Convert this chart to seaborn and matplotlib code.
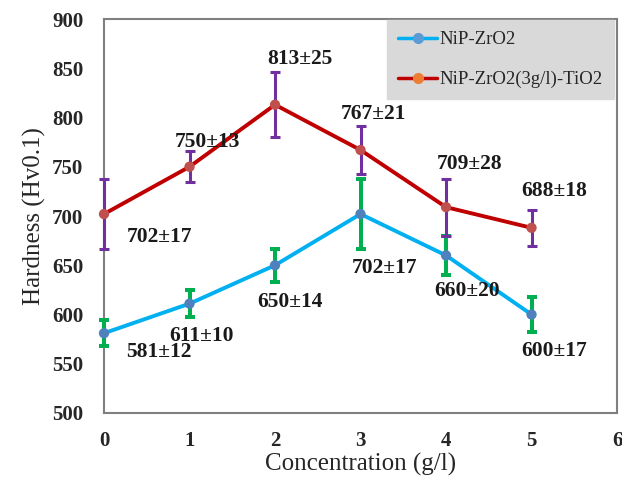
import matplotlib
matplotlib.use("Agg")
import matplotlib.pyplot as plt
from matplotlib.lines import Line2D
import seaborn as sns
import pandas as pd

concentration = [0, 1, 2, 3, 4, 5]
zro2_hardness = [581, 611, 650, 702, 660, 600]
zro2_err_drawn = [13, 13.5, 16.5, 36, 20, 18]
zro2_labels = ["581±12", "611±10", "650±14", "702±17", "660±20", "600±17"]
tio2_hardness = [702, 750, 813, 767, 709, 688]
tio2_err_drawn = [36, 15.5, 33, 24, 29, 18.5]
tio2_labels = ["702±17", "750±13", "813±25", "767±21", "709±28", "688±18"]
series_names = ["NiP-ZrO2", "NiP-ZrO2(3g/l)-TiO2"]

# label anchor positions (data coords)
zro2_label_xy = [(0.645, 562), (1.14, 578), (2.18, 613), (3.28, 647), (4.25, 624), (5.26, 563)]
tio2_label_xy = [(0.645, 679), (1.21, 775), (2.29, 859), (3.15, 804), (4.27, 753), (5.26, 725)]

df = pd.DataFrame({
    "Concentration": concentration * 2,
    "Hardness": zro2_hardness + tio2_hardness,
    "Series": [series_names[0]] * 6 + [series_names[1]] * 6,
})

sns.set_style("white")
plt.rcParams["font.family"] = ["Liberation Serif", "DejaVu Serif"]

fig = plt.figure(figsize=(6.22, 4.79), dpi=100)
ax = fig.add_axes([0.1672, 0.1378, 0.8248, 0.8225])

line_colors = {series_names[0]: "#00b0f0", series_names[1]: "#c00000"}
marker_colors = ["#4f81bd", "#c0504d"]
err_colors = ["#00b050", "#7030a0"]

sns.lineplot(data=df, x="Concentration", y="Hardness", hue="Series",
             palette=line_colors, linewidth=2.8, ax=ax, legend=False, zorder=2)

for vals, errs, ec, mc, lw in [(zro2_hardness, zro2_err_drawn, err_colors[0], marker_colors[0], 2.9),
                               (tio2_hardness, tio2_err_drawn, err_colors[1], marker_colors[1], 2.2)]:
    eb = ax.errorbar(concentration, vals, yerr=errs, fmt="none", ecolor=ec,
                     elinewidth=lw, capsize=3.8, capthick=lw, zorder=3)
    for art in eb.lines[1] + eb.lines[2]:
        art.set_clip_on(False)
    sc = ax.scatter(concentration, vals, s=55, color=mc, zorder=4, edgecolors="none")
    sc.set_clip_on(False)

for labels, xy in [(zro2_labels, zro2_label_xy), (tio2_labels, tio2_label_xy)]:
    for t, (x, y) in zip(labels, xy):
        ax.text(x, y, t, ha="center", va="center", fontsize=15.5,
                fontweight="bold", color="#1a1a1a", zorder=5)

ax.set_xlim(0, 6)
ax.set_ylim(500, 900)
ax.set_xticks(range(0, 7))
ax.set_yticks(range(500, 901, 50))
ax.tick_params(axis="x", length=0, labelsize=15, pad=13)
ax.tick_params(axis="y", length=0, labelsize=15, pad=15)
for lab in ax.get_xticklabels() + ax.get_yticklabels():
    lab.set_fontweight("bold")
ax.set_xlabel("Concentration (g/l)", fontsize=18, labelpad=1)
ax.set_ylabel("Hardness (Hv0.1)", fontsize=18, labelpad=4)
for sp in ax.spines.values():
    sp.set_color("#7f7f7f")
    sp.set_linewidth(1.5)

handles = [
    Line2D([0], [0], color="#00b0f0", lw=2.5, marker="o", markersize=7,
           markerfacecolor="#5b9bd5", markeredgecolor="#5b9bd5"),
    Line2D([0], [0], color="#c00000", lw=2.5, marker="o", markersize=7,
           markerfacecolor="#ed7d31", markeredgecolor="#ed7d31"),
]
leg = ax.legend(handles, series_names, loc="upper right", bbox_to_anchor=(0.995, 1.0),
                fontsize=13.5, frameon=True, fancybox=False, borderpad=0.6,
                labelspacing=1.2, handlelength=2.1, handletextpad=0.1,
                borderaxespad=0.05)
leg.get_frame().set_facecolor("#d9d9d9")
leg.get_frame().set_edgecolor("#d9d9d9")
leg.get_frame().set_alpha(1)

fig.savefig("out.png", dpi=100)
